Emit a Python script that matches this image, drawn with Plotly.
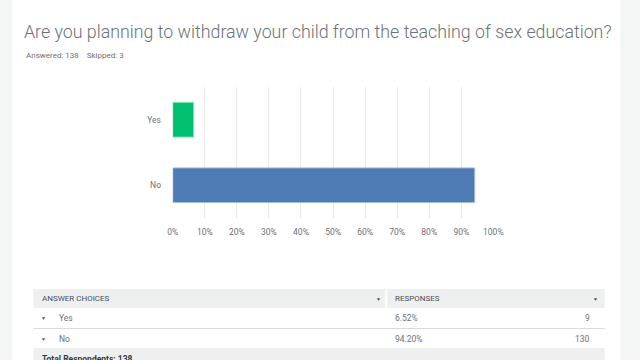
import plotly.graph_objects as go

title = "Are you planning to withdraw your child from the teaching of sex education?"
answered = 138
skipped = 3
choices = ["Yes", "No"]
percents = [6.52, 94.20]
counts = [9, 130]
colors = ["#00bf6f", "#507cb6"]
outline = ["#7fe0b6", "#a9bfdc"]
tick_vals = [0, 10, 20, 30, 40, 50, 60, 70, 80, 90, 100]
tick_text = [f"{v}%" for v in tick_vals]

W, H = 640, 360
def px(x): return x / W
def py(y): return 1 - y / H

fig = go.Figure()
fig.add_trace(go.Bar(
    x=percents, y=choices, orientation="h",
    marker=dict(color=colors, line=dict(color=outline, width=1)),
    width=0.53, hoverinfo="skip",
))

font_main = "Roboto"
shapes = []
ann = []
# card
shapes.append(dict(type="rect", xref="paper", yref="paper", x0=px(6), x1=px(630), y0=0, y1=1,
                   fillcolor="white", line=dict(width=0), layer="below"))
# table
tl, tr, tdiv = 28, 614, 390
shapes.append(dict(type="rect", xref="paper", yref="paper", x0=px(tl), x1=px(tdiv - 1), y0=py(308), y1=py(289),
                   fillcolor="#eeefef", line=dict(width=0), layer="below"))
shapes.append(dict(type="rect", xref="paper", yref="paper", x0=px(tdiv + 1), x1=px(tr), y0=py(308), y1=py(289),
                   fillcolor="#eeefef", line=dict(width=0), layer="below"))
shapes.append(dict(type="line", xref="paper", yref="paper", x0=px(tl), x1=px(tr), y0=py(328.5), y1=py(328.5),
                   line=dict(color="#d9dadb", width=1)))
shapes.append(dict(type="rect", xref="paper", yref="paper", x0=px(tl), x1=px(tr), y0=py(370), y1=py(348),
                   fillcolor="#eeefef", line=dict(width=0), layer="below"))

def text(x, y, s, size=8.5, color="#333e48", anchor="left", bold=False, fam=font_main):
    ann.append(dict(xref="paper", yref="paper", x=px(x), y=py(y), text=(f"<b>{s}</b>" if bold else s),
                    showarrow=False, xanchor=anchor, yanchor="middle",
                    font=dict(family=fam, size=size, color=color)))

ann.append(dict(xref="paper", yref="paper", x=px(16), y=py(31), text=title, showarrow=False,
                xanchor="left", yanchor="middle",
                font=dict(family=font_main, size=17.8, color="#6b7177", weight=300)))
text(18, 55, f"Answered: {answered}&nbsp;&nbsp;&nbsp;&nbsp;Skipped: {skipped}", size=8, color="#6b7177")

text(35, 298.5, "ANSWER CHOICES", size=8, color="#4a4f55")
text(397, 298.5, "RESPONSES", size=8, color="#4a4f55")
text(382, 298.5, "▼", size=5, color="#4a4f55", anchor="center")
text(605, 298.5, "▼", size=5, color="#4a4f55", anchor="center")
for i, (c, p, n) in enumerate(zip(choices, percents, counts)):
    yc = 318 if i == 0 else 339
    text(38, yc, "▼", size=5, color="#4a4f55", anchor="center")
    text(52, yc, c, size=8.5, color="#6b7177")
    text(397, yc, f"{p:.2f}%", size=8.5, color="#6b7177")
    text(601, yc, str(n), size=8.5, color="#6b7177", anchor="right")
ann.append(dict(xref="paper", yref="paper", x=px(35), y=py(352), text=f"<b>Total Respondents: {answered}</b>",
                showarrow=False, xanchor="left", yanchor="top",
                font=dict(family=font_main, size=8.5, color="#333e48")))

fig.update_layout(
    width=W, height=H, margin=dict(l=0, r=0, t=0, b=0),
    paper_bgcolor="#f4f5f5", plot_bgcolor="white",
    showlegend=False, shapes=shapes, annotations=ann,
    xaxis=dict(domain=[px(171), px(500)], range=[0, 100.05], tickvals=tick_vals, ticktext=tick_text,
               showgrid=True, gridcolor="#e8e9ea", gridwidth=1, zeroline=False, showline=False,
               ticks="outside", ticklen=6, tickcolor="rgba(0,0,0,0)",
               tickfont=dict(family=font_main, size=8.5, color="#6b7177"), fixedrange=True),
    yaxis=dict(domain=[py(218), py(87)], autorange="reversed", showgrid=False, zeroline=False,
               ticks="outside", ticklen=9, tickcolor="rgba(0,0,0,0)",
               tickfont=dict(family=font_main, size=8.5, color="#6b7177"), fixedrange=True),
)
fig.write_html("out.html",
               post_script="document.body.style.margin='0';document.body.style.overflow='hidden';",
               config={"displayModeBar": False})
